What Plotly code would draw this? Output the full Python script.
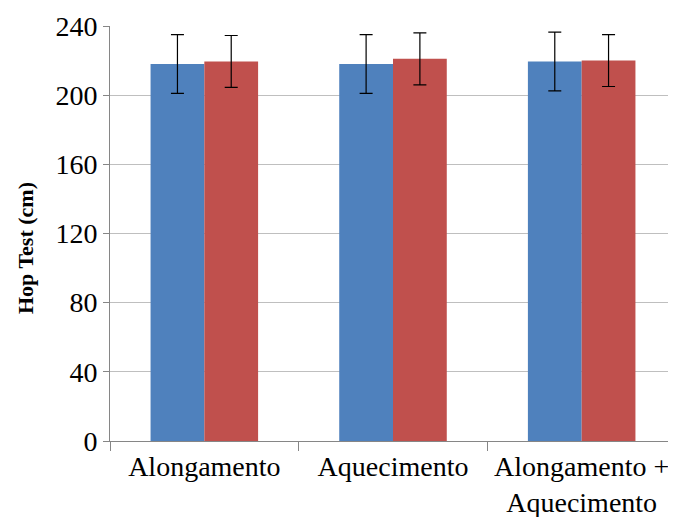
import plotly.graph_objects as go

categories = ["Alongamento", "Aquecimento", "Alongamento +<br>Aquecimento"]
series1_name = "Série 1"
series1_values = [218, 218, 219.5]
series1_err = [17, 17, 17]
series2_name = "Série 2"
series2_values = [219.5, 221, 220]
series2_err = [15, 15, 15]
y_ticks = [0, 40, 80, 120, 160, 200, 240]
y_title = "Hop Test (cm)"

font_family = "Liberation Serif, Times New Roman, serif"

fig = go.Figure()
fig.add_trace(go.Bar(
    x=categories, y=series1_values, name=series1_name,
    marker=dict(color="#4F81BD", line=dict(width=0)),
    error_y=dict(type="data", array=series1_err, color="black", thickness=1.2, width=6.5),
))
fig.add_trace(go.Bar(
    x=categories, y=series2_values, name=series2_name,
    marker=dict(color="#C0504D", line=dict(width=0)),
    error_y=dict(type="data", array=series2_err, color="black", thickness=1.2, width=6.5),
))

fig.add_annotation(
    text="<b>" + y_title + "</b>", textangle=-90,
    xref="paper", yref="paper", x=0, y=0.465, xshift=-85,
    xanchor="center", yanchor="middle", showarrow=False,
    font=dict(size=22, family=font_family, color="black"),
)

fig.update_layout(
    width=668, height=509,
    margin=dict(l=102, r=0, t=18, b=76),
    paper_bgcolor="white", plot_bgcolor="white",
    barmode="group", bargap=0.43, bargroupgap=0,
    showlegend=False,
    font=dict(family=font_family, size=28, color="black"),
    xaxis=dict(
        showline=True, linecolor="#868686", linewidth=1,
        ticks="outside", ticklen=9, tickcolor="#868686", tickson="boundaries",
        showgrid=False, tickfont=dict(size=28),
    ),
    yaxis=dict(
        range=[0, 240], tickvals=y_ticks,
        showline=True, linecolor="#868686", linewidth=1,
        ticks="outside", ticklen=6, tickcolor="#868686",
        showgrid=True, gridcolor="#BFBFBF", gridwidth=1,
        zeroline=False, tickfont=dict(size=28),
    ),
)

fig.write_html("out.html")
